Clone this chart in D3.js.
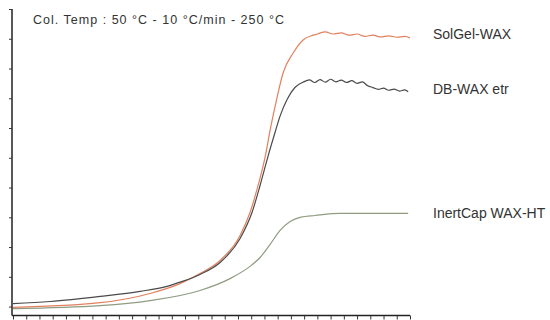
<!DOCTYPE html>
<html>
<head>
<meta charset="utf-8">
<script src="https://cdn.jsdelivr.net/npm/d3@7"></script>
<style>
  html, body { margin: 0; padding: 0; background: #fff; }
  svg { display: block; }
  text { font-family: "Liberation Sans", Arial, sans-serif; fill: #333; }
</style>
</head>
<body>
<svg id="chart" width="550" height="320"></svg>
<script>
// ---- data (time units, relative response) ----
const xTicks = d3.range(0, 31);
const yTicks = d3.range(0, 11);
const title = "Col. Temp : 50 °C - 10 °C/min - 250 °C";

const seriesNames = ["SolGel-WAX", "DB-WAX etr", "InertCap WAX-HT"];
const seriesColors = ["#e2805f", "#4a4a4a", "#8f9c80"];

const solgelT = [0, 6.58, 10.36, 12.62, 14.13, 15.65, 17.16, 17.91, 18.52, 19.05, 19.43, 19.96, 20.41, 21.17, 21.92, 22.68, 23.0, 23.6, 24.2, 24.8, 25.4, 26.0, 26.6, 27.2, 27.8, 28.4, 29.0, 29.6, 30.0];
const solgelV = [-0.03, 0.13, 0.44, 0.77, 1.11, 1.55, 2.39, 3.16, 4.07, 5.02, 5.93, 7.04, 7.85, 8.52, 8.96, 9.12, 9.16, 9.23, 9.16, 9.20, 9.12, 9.16, 9.08, 9.12, 9.06, 9.10, 9.05, 9.08, 9.03];

const dbwaxT = [0, 2.8, 6.58, 9.6, 11.64, 12.62, 14.13, 15.65, 17.16, 18.06, 18.67, 19.27, 19.8, 20.18, 20.71, 21.32, 21.92, 22.4, 22.8, 23.2, 23.6, 24.0, 24.4, 24.8, 25.2, 25.6, 26.0, 26.4, 26.8, 27.2, 27.6, 28.0, 28.4, 28.8, 29.2, 29.6, 29.86];
const dbwaxV = [0.10, 0.17, 0.34, 0.51, 0.68, 0.82, 1.08, 1.48, 2.29, 3.16, 4.07, 5.05, 5.85, 6.40, 6.96, 7.37, 7.54, 7.62, 7.53, 7.63, 7.54, 7.64, 7.55, 7.61, 7.53, 7.59, 7.50, 7.55, 7.42, 7.36, 7.30, 7.34, 7.27, 7.31, 7.24, 7.28, 7.22];

const inertT = [0, 6.58, 10.36, 14.13, 16.4, 17.91, 18.67, 19.43, 20.18, 20.94, 21.69, 22.83, 24.72, 29.86];
const inertV = [-0.07, 0.03, 0.20, 0.54, 0.94, 1.35, 1.65, 2.09, 2.56, 2.86, 3.00, 3.06, 3.13, 3.13];

// ---- drawing ----
const svg = d3.select("#chart");
const x = d3.scaleLinear().domain([0, 30]).range([13, 410]);
const y = d3.scaleLinear().domain([-0.3, 10]).range([315.5, 9]);

const seriesData = [
  solgelT.map((t, i) => [t, solgelV[i]]),
  dbwaxT.map((t, i) => [t, dbwaxV[i]]),
  inertT.map((t, i) => [t, inertV[i]])
];

const line = d3.line().x(d => x(d[0])).y(d => y(d[1])).curve(d3.curveMonotoneX);

// draw green first, then orange, then black
[2, 0, 1].forEach(i => {
  svg.append("path")
    .datum(seriesData[i])
    .attr("fill", "none")
    .attr("stroke", seriesColors[i])
    .attr("stroke-width", 1.2)
    .attr("d", line);
});

// axes
const xAxis = d3.axisBottom(x).tickValues(xTicks).tickSize(4).tickFormat("");
const gx = svg.append("g").attr("transform", `translate(0,${y(-0.3)})`).call(xAxis);
gx.select(".domain").attr("d", `M12,0H410`).attr("stroke", "#222").attr("stroke-width", 1.5);
gx.selectAll(".tick line").attr("stroke", "#333");

const yAxis = d3.axisLeft(y).tickValues(yTicks).tickSize(3).tickFormat("");
const gy = svg.append("g").attr("transform", `translate(12,0)`).call(yAxis);
gy.select(".domain").attr("d", `M0,${y(10)}V${y(-0.3)}`).attr("stroke", "#222").attr("stroke-width", 1.5);
gy.selectAll(".tick line").attr("stroke", "#333");

// title
svg.append("text")
  .attr("x", 33).attr("y", 24)
  .attr("font-size", 12.5)
  .attr("textLength", 251).attr("lengthAdjust", "spacing")
  .text(title);

// labels
const labelY = [39, 94, 218];
seriesNames.forEach((n, i) => {
  svg.append("text")
    .attr("x", 433).attr("y", labelY[i])
    .attr("font-size", 14)
    .text(n);
});
</script>
</body>
</html>
